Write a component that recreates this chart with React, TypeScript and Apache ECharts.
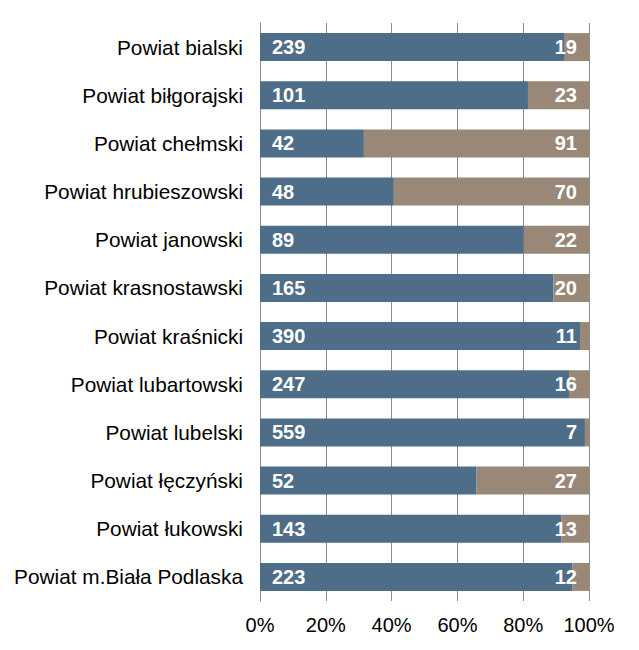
import React, { useEffect, useRef } from "react";
import * as echarts from "echarts";

const categories = [
  "Powiat bialski",
  "Powiat biłgorajski",
  "Powiat chełmski",
  "Powiat hrubieszowski",
  "Powiat janowski",
  "Powiat krasnostawski",
  "Powiat kraśnicki",
  "Powiat lubartowski",
  "Powiat lubelski",
  "Powiat łęczyński",
  "Powiat łukowski",
  "Powiat m.Biała Podlaska",
];
const seriesA = [239, 101, 42, 48, 89, 165, 390, 247, 559, 52, 143, 223];
const seriesB = [19, 23, 91, 70, 22, 20, 11, 16, 7, 27, 13, 12];
const xTicks = [0, 20, 40, 60, 80, 100];

export default function App() {
  const ref = useRef<HTMLDivElement>(null);
  useEffect(() => {
    if (!ref.current) return;
    const chart = echarts.init(ref.current, null, { renderer: "svg" });
    const totals = seriesA.map((a, i) => a + seriesB[i]);
    const pctA = seriesA.map((a, i) => ({ value: (a / totals[i]) * 100, raw: a }));
    const pctB = seriesB.map((b, i) => ({ value: (b / totals[i]) * 100, raw: b }));
    const labelStyle = {
      show: true,
      color: "#ffffff",
      fontWeight: "bold" as const,
      fontSize: 20,
      fontFamily: "Liberation Sans, Arial, sans-serif",
      distance: 12,
      formatter: (p: any) => String(p.data.raw),
    };
    chart.setOption({
      animation: false,
      grid: { left: 252, right: 42, top: 15, bottom: 41, containLabel: false },
      xAxis: {
        type: "value",
        min: 0,
        max: 100,
        interval: 20,
        axisLine: { show: false },
        axisTick: { show: false },
        splitLine: { show: true, lineStyle: { color: "#8c8c8c", width: 1 } },
        axisLabel: {
          formatter: (v: number) => (xTicks.includes(v) ? v + "%" : ""),
          fontSize: 20,
          color: "#000000",
          fontFamily: "Liberation Sans, Arial, sans-serif",
          margin: 14,
        },
      },
      yAxis: {
        type: "category",
        data: categories,
        inverse: true,
        axisLine: { show: true, lineStyle: { color: "#8c8c8c" } },
        axisTick: { show: false },
        axisLabel: {
          fontSize: 20.8,
          color: "#000000",
          fontFamily: "Liberation Sans, Arial, sans-serif",
          margin: 17,
        },
      },
      series: [
        {
          type: "bar",
          stack: "s",
          data: pctA,
          barWidth: 28,
          itemStyle: { color: "#4e6d88" },
          label: { ...labelStyle, position: "insideLeft" },
        },
        {
          type: "bar",
          stack: "s",
          data: pctB,
          barWidth: 28,
          itemStyle: { color: "#998878" },
          label: { ...labelStyle, position: "insideRight" },
        },
      ],
    });
    return () => chart.dispose();
  }, []);
  return <div ref={ref} style={{ width: 623, height: 634 }} />;
}
